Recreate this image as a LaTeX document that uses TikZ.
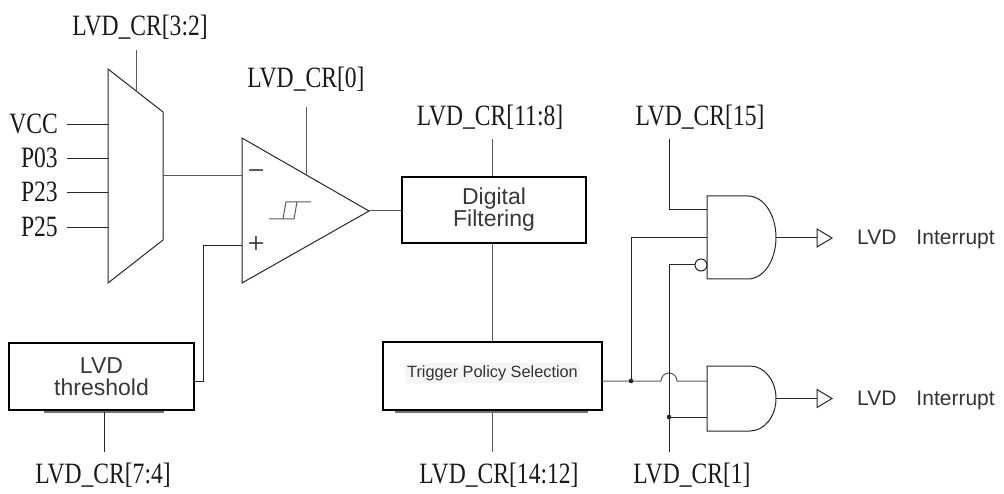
\documentclass[tikz,border=0pt]{standalone}
\usepackage{fontspec}
\setmainfont{Liberation Sans}
\newfontfamily\lblfont[FakeStretch=0.8]{Liberation Serif}
\newfontfamily\pmfont{Liberation Serif}
\begin{document}
\begin{tikzpicture}[x=1pt,y=-1pt,
  wire/.style={line width=1pt, draw=black!85},
  gwire/.style={line width=1pt, draw=black!65},
  blk/.style={draw=black, line width=2.2pt, inner sep=0pt, text=black!78, font=\fontsize{23}{22}\selectfont, align=center},
  shadow/.style={line width=1.4pt, draw=black!55},
  lbl/.style={font=\lblfont\fontsize{29.5}{29.5}\selectfont, inner sep=0pt, text=black!90},
  pm/.style={font=\pmfont\fontsize{30}{30}\selectfont, inner sep=0pt, text=black!85},
  itxt/.style={font=\fontsize{21}{21}\selectfont, inner sep=0pt, text=black!80},
  dotf/.style={fill=black!85},
  otip/.style={line width=1pt, draw=black!85, fill=white}
]
\useasboundingbox (0,0) rectangle (1004,494);

% ---------- multiplexer ----------
\draw[wire] (108,69) -- (163,112) -- (163,240) -- (108,283) -- cycle;
\coordinate (muxsel) at (136,91);
\coordinate (muxselend) at (136,50);
\coordinate (muxout) at (163,176);
\coordinate (vccin) at (108,125);  \coordinate (vccend) at (67,125);
\coordinate (p03in) at (108,159);  \coordinate (p03end) at (67,159);
\coordinate (p23in) at (108,193);  \coordinate (p23end) at (67,193);
\coordinate (p25in) at (108,228);  \coordinate (p25end) at (67,228);
\draw[wire] (vccend) -- (vccin);
\draw[wire] (p03end) -- (p03in);
\draw[wire] (p23end) -- (p23in);
\draw[wire] (p25end) -- (p25in);
\node[lbl, anchor=base east] (lvcc) at (58,133.5) {VCC};
\node[lbl, anchor=base east] (lp03) at (58,168) {P03};
\node[lbl, anchor=base east] (lp23) at (58,202) {P23};
\node[lbl, anchor=base east] (lp25) at (58,237) {P25};
\node[lbl, anchor=base] (lsel) at (140,36) {LVD\_CR[3:2]};
\draw[gwire] (muxselend) -- (muxsel);

% ---------- comparator ----------
\draw[wire] (242,138) -- (369,211) -- (242,283) -- cycle;
\coordinate (cmpneg) at (242,176);
\coordinate (cmppos) at (242,246);
\coordinate (cmpout) at (369,211);
\coordinate (cmpen) at (306,175);
\coordinate (cmpenend) at (306,107);
\draw[gwire] (muxout) -- (cmpneg);
\draw[gwire] (cmpenend) -- (cmpen);
\node[lbl, anchor=base] (len) at (306,88) {LVD\_CR[0]};
\node[pm] (minus) at (256,175) {−};
\node[pm] (plus) at (256,245) {+};
% hysteresis symbol
\draw[gwire] (269,219) -- (294,219) (283,219) -- (286,202) (294,219) -- (297,202) (286,202) -- (311,202);

% ---------- LVD threshold ----------
\node[blk, minimum width=185, minimum height=67] (thr) at (101.5,376.5) {LVD\\threshold};
\draw[shadow] (44,412) -- (164,412);
\coordinate (throut) at (194,381);
\coordinate (thrbot) at (104,412);
\coordinate (thrbotend) at (104,452);
\draw[wire] (cmppos) -- (203,246) -- (203,381) -- (throut);
\draw[wire] (thrbot) -- (thrbotend);
\node[lbl, anchor=base] (lthr) at (103,483) {LVD\_CR[7:4]};

% ---------- Digital filtering ----------
\node[blk, minimum width=184, minimum height=66] (dig) at (494,210) {Digital\\Filtering};
\coordinate (digtopend) at (492,139);
\draw[gwire] (cmpout) -- (dig.west |- cmpout);
\draw[gwire] (digtopend) -- (digtopend |- dig.north);
\node[lbl, anchor=base] (ldig) at (490,126) {LVD\_CR[11:8]};

% ---------- Trigger policy selection ----------
\node[blk, minimum width=219, minimum height=68] (trig) at (492.5,376) {};
\node[fill=black!4, inner sep=2pt, text=black!80, font=\fontsize{16.3}{16}\selectfont] (trigtxt) at (492.5,373) {Trigger Policy Selection};
\draw[shadow] (395,412) -- (588,412);
\coordinate (trigbot) at (492,412);
\coordinate (trigbotend) at (492,452);
\draw[gwire] (dig.south -| trigbot) -- (trig.north -| trigbot);
\draw[gwire] (trigbot) -- (trigbotend);
\node[lbl, anchor=base] (ltrig) at (499,483) {LVD\_CR[14:12]};
\coordinate (trigout) at (602,381);
\coordinate (jA) at (631,381);
\coordinate (hopA) at (661,381);

% ---------- AND gates ----------
\draw[wire] (707,196) -- (748,196) arc[start angle=-90, end angle=90, x radius=28, y radius=41.5] -- (707,279) -- cycle;
\draw[wire] (707,366) -- (750,366) arc[start angle=-90, end angle=90, x radius=26, y radius=32.5] -- (707,431) -- cycle;
\coordinate (g1a) at (707,210);
\coordinate (g1b) at (707,238);
\coordinate (g1out) at (776,238);
\coordinate (g2a) at (707,381);
\coordinate (g2b) at (707,417);
\coordinate (g2out) at (776,398.5);
\node[circle, draw=black!85, line width=1pt, minimum size=12, inner sep=0pt] (bub) at (701,265) {};

% trigger output network
\draw[gwire] (trigout) -- (jA) -- (hopA) arc[start angle=180, end angle=360, radius=8] -- (g2a);
\draw[wire] (jA) -- (631,238) -- (g1b);
\fill[dotf] (jA) circle (2.3);

% LVD_CR[15]
\node[lbl, anchor=base] (l15) at (700,126) {LVD\_CR[15]};
\coordinate (c15) at (669,139);
\draw[wire] (c15) -- (669,210) -- (g1a);

% LVD_CR[1]
\node[lbl, anchor=base] (l1) at (692,483) {LVD\_CR[1]};
\coordinate (c1) at (669,452);
\coordinate (j1) at (669,417);
\draw[wire] (c1) -- (669,265) -- (bub.west);
\draw[wire] (j1) -- (g2b);
\fill[dotf] (j1) circle (2.3);

% outputs
\coordinate (a1) at (817,238);
\coordinate (a2) at (817,398.5);
\draw[wire] (g1out) -- (a1);
\draw[wire] (g2out) -- (a2);
\draw[otip] (817,229) -- (832,238) -- (817,247) -- cycle;
\draw[otip] (817,389.5) -- (832,398.5) -- (817,407.5) -- cycle;
\node[itxt, anchor=base west] (int1) at (857,245) {LVD\hspace{20pt}Interrupt};
\node[itxt, anchor=base west] (int2) at (857,405.5) {LVD\hspace{20pt}Interrupt};
\end{tikzpicture}
\end{document}
